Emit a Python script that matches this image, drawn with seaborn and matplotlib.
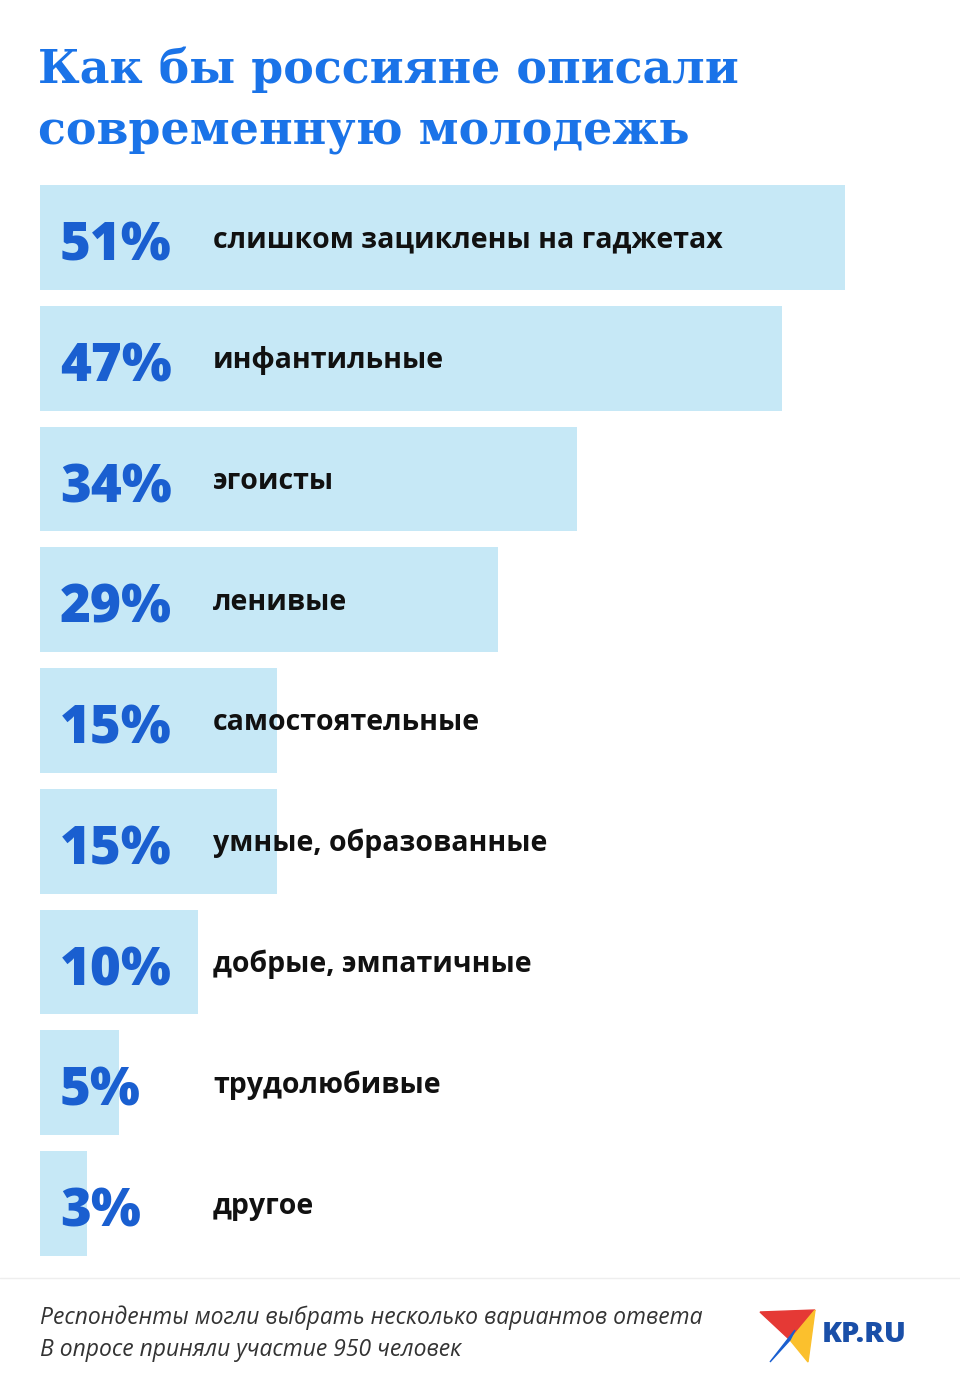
import matplotlib.pyplot as plt
import seaborn as sns
import pandas as pd

# survey values
answers = [
    "слишком зациклены на гаджетах",
    "инфантильные",
    "эгоисты",
    "ленивые",
    "самостоятельные",
    "умные, образованные",
    "добрые, эмпатичные",
    "трудолюбивые",
    "другое",
]
shares = [51, 47, 34, 29, 15, 15, 10, 5, 3]

title = "Как бы россияне описали\nсовременную молодежь"
notes = ["Респонденты могли выбрать несколько вариантов ответа",
         "В опросе приняли участие 950 человек"]

sns.set_style("white")
plt.rcParams["font.family"] = ["Open Sans", "DejaVu Sans"]

W, H = 960, 1389
fig = plt.figure(figsize=(W / 100, H / 100), dpi=100)

px = 805 / 51  # pixels per percent
ax = fig.add_axes([40 / W, 1 - 1256 / H, 920 / W, (1256 - 185) / H])
df = pd.DataFrame({"answer": answers, "share": shares})
sns.barplot(data=df, x="share", y="answer", orient="h", color="#c6e8f6",
            saturation=1, width=105 / 121, ax=ax)
for p in ax.patches:
    p.set_edgecolor("none")
ax.set_xlim(0, 920 / px)
half = (105 / 121) / 2
ax.set_ylim(len(answers) - 1 + half, -half)
ax.axis("off")

for i, (a, s) in enumerate(zip(answers, shares)):
    ax.text(20 / px, i + 0.08, f"{s}%", fontsize=38, fontweight="heavy",
            color="#1a5fd0", va="center", ha="left")
    ax.text(173 / px, i + 0.02, a, fontsize=20.5, fontweight="bold",
            color="#111111", va="center", ha="left")

serif = ["DejaVu Serif", "Liberation Serif"]
fig.text(38 / W, 1 - 70 / H, title.split("\n")[0], fontsize=33, fontweight="bold",
         family=serif, color="#1a73e8", va="center")
fig.text(38 / W, 1 - 132 / H, title.split("\n")[1], fontsize=33, fontweight="bold",
         family=serif, color="#1a73e8", va="center")

fig.add_artist(plt.Line2D([0, 1], [1 - 1278 / H] * 2, color="#eeeeee", lw=1))
fig.text(40 / W, 1 - 1318 / H, notes[0], fontsize=16.5, style="italic",
         color="#333333", va="center")
fig.text(40 / W, 1 - 1350 / H, notes[1], fontsize=16.5, style="italic",
         color="#333333", va="center")

# logo
fig.patches.append(plt.Polygon([[760 / W, 1 - 1312 / H], [815 / W, 1 - 1310 / H],
                                [790 / W, 1 - 1340 / H]], closed=True,
                               transform=fig.transFigure, color="#e53935"))
fig.patches.append(plt.Polygon([[790 / W, 1 - 1340 / H], [815 / W, 1 - 1310 / H],
                                [808 / W, 1 - 1362 / H]], closed=True,
                               transform=fig.transFigure, color="#fbc02d"))
fig.patches.append(plt.Polygon([[795 / W, 1 - 1330 / H], [770 / W, 1 - 1362 / H],
                                [790 / W, 1 - 1340 / H]], closed=True,
                               transform=fig.transFigure, color="#1a5fd0"))
fig.text(822 / W, 1 - 1334 / H, "KP.RU", fontsize=21, fontweight="heavy",
         color="#1a4fa8", va="center")

fig.savefig("out.png", dpi=100, facecolor="white")
